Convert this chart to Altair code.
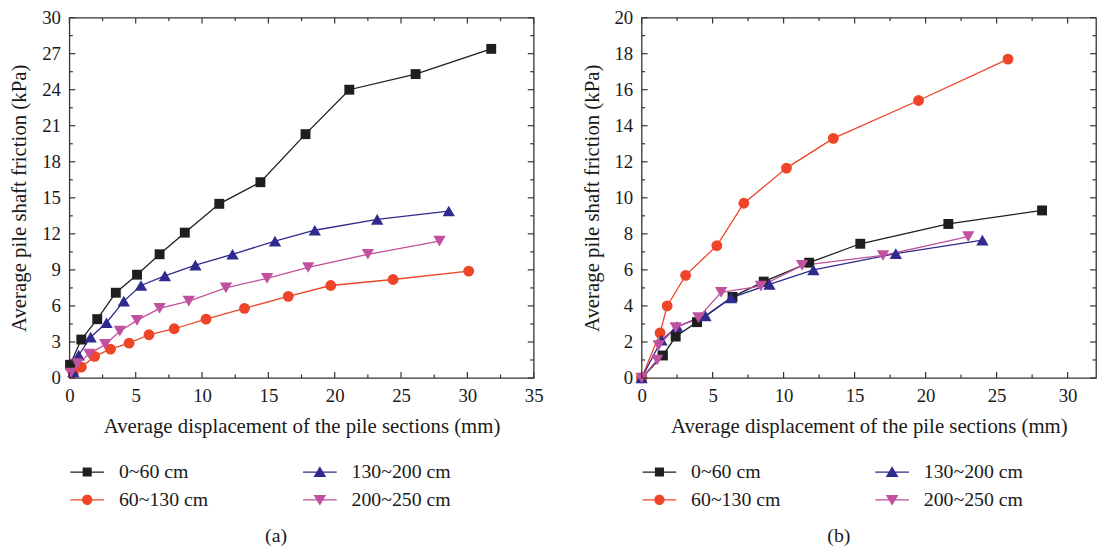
import altair as alt
import pandas as pd

FONT = "Liberation Serif"

series = ["0~60 cm", "60~130 cm", "130~200 cm", "200~250 cm"]
legend_order = ["0~60 cm", "60~130 cm", "130~200 cm", "200~250 cm"]
colors = {"0~60 cm": "#1e1e1e", "60~130 cm": "#ee4427", "130~200 cm": "#2f2a8d", "200~250 cm": "#c1509e"}
shapes = {"0~60 cm": "square", "60~130 cm": "circle", "130~200 cm": "triangle-up", "200~250 cm": "triangle-down"}
sizes = {"0~60 cm": 100, "60~130 cm": 120, "130~200 cm": 155, "200~250 cm": 155}

# ---------------- panel (a) ----------------
a_x_0_60 = [0.05, 0.9, 2.1, 3.5, 5.1, 6.8, 8.7, 11.3, 14.4, 17.8, 21.1, 26.1, 31.8]
a_y_0_60 = [1.1, 3.2, 4.9, 7.1, 8.6, 10.3, 12.1, 14.5, 16.3, 20.3, 24.0, 25.3, 27.4]
a_x_60_130 = [0.3, 0.9, 1.9, 3.1, 4.5, 6.0, 7.9, 10.3, 13.2, 16.5, 19.7, 24.4, 30.1]
a_y_60_130 = [0.4, 0.9, 1.8, 2.4, 2.9, 3.6, 4.1, 4.9, 5.8, 6.8, 7.7, 8.2, 8.9]
a_x_130_200 = [0.3, 0.7, 1.6, 2.8, 4.1, 5.4, 7.2, 9.5, 12.3, 15.5, 18.5, 23.2, 28.6]
a_y_130_200 = [0.5, 1.9, 3.4, 4.6, 6.4, 7.7, 8.5, 9.4, 10.3, 11.4, 12.3, 13.2, 13.9]
a_x_200_250 = [0.1, 0.6, 1.5, 2.7, 3.8, 5.1, 6.8, 9.0, 11.8, 14.9, 18.0, 22.5, 27.9]
a_y_200_250 = [0.4, 1.2, 2.0, 2.8, 3.9, 4.8, 5.8, 6.4, 7.5, 8.3, 9.2, 10.3, 11.4]

# ---------------- panel (b) ----------------
b_x_0_60 = [0.0, 1.5, 2.4, 3.9, 6.4, 8.6, 11.8, 15.4, 21.6, 28.2]
b_y_0_60 = [0.0, 1.25, 2.3, 3.1, 4.5, 5.35, 6.4, 7.45, 8.55, 9.3]
b_x_60_130 = [0.0, 1.3, 1.8, 3.1, 5.3, 7.2, 10.2, 13.5, 19.5, 25.8]
b_y_60_130 = [0.0, 2.5, 4.0, 5.7, 7.35, 9.7, 11.65, 13.3, 15.4, 17.7]
b_x_130_200 = [0.0, 1.4, 2.5, 4.5, 6.3, 9.0, 12.1, 17.9, 24.0]
b_y_130_200 = [0.0, 2.1, 2.85, 3.45, 4.45, 5.2, 6.0, 6.9, 7.65]
b_x_200_250 = [0.0, 1.1, 1.2, 2.4, 4.0, 5.6, 8.4, 11.3, 17.0, 23.0]
b_y_200_250 = [0.0, 1.0, 1.8, 2.8, 3.35, 4.75, 5.1, 6.25, 6.8, 7.85]

a_x_major = [0, 5, 10, 15, 20, 25, 30, 35]
a_x_minor = [2.5, 7.5, 12.5, 17.5, 22.5, 27.5, 32.5]
a_y_major = [0, 3, 6, 9, 12, 15, 18, 21, 24, 27, 30]
a_y_minor = [1.5, 4.5, 7.5, 10.5, 13.5, 16.5, 19.5, 22.5, 25.5, 28.5]
b_x_major = [0, 5, 10, 15, 20, 25, 30]
b_x_minor = [2.5, 7.5, 12.5, 17.5, 22.5, 27.5]
b_y_major = [0, 2, 4, 6, 8, 10, 12, 14, 16, 18, 20]
b_y_minor = [1, 3, 5, 7, 9, 11, 13, 15, 17, 19]

X_TITLE = "Average displacement of the pile sections (mm)"
Y_TITLE = "Average pile shaft friction (kPa)"


def build_df(xs_list, ys_list):
    rows = []
    for s, xs, ys in zip(series, xs_list, ys_list):
        for i, (xv, yv) in enumerate(zip(xs, ys)):
            rows.append({"series": s, "idx": i, "x": xv, "y": yv})
    return pd.DataFrame(rows)


df_a = build_df([a_x_0_60, a_x_60_130, a_x_130_200, a_x_200_250],
                [a_y_0_60, a_y_60_130, a_y_130_200, a_y_200_250])
df_b = build_df([b_x_0_60, b_x_60_130, b_x_130_200, b_x_200_250],
                [b_y_0_60, b_y_60_130, b_y_130_200, b_y_200_250])
legend_df = pd.DataFrame({"series": legend_order})

# legend symbol: line segment + marker (custom SVG paths in the [-1,1] box)
LINE = "M-1,0H1"
marker_paths = {
    "0~60 cm": "M-0.23,-0.23H0.23V0.23H-0.23Z",
    "60~130 cm": "M-0.27,0A0.27,0.27,0,1,1,0.27,0A0.27,0.27,0,1,1,-0.27,0Z",
    "130~200 cm": "M0,-0.27L0.31,0.25L-0.31,0.25Z",
    "200~250 cm": "M0,0.27L0.31,-0.25L-0.31,-0.25Z",
}
SYM = 34 * 34
H = 364


def make_legend():
    return alt.Legend(
        title=None, orient="none", legendX=0, legendY=448, columns=2,
        columnPadding=94, rowPadding=6, clipHeight=22, padding=0,
        symbolSize=SYM, symbolStrokeWidth=1.3, symbolOpacity=1,
        labelOffset=14, labelFont=FONT, labelFontSize=20,
        labelColor="#1a1a1a", labelLimit=300,
    )


def panel(df, xdom, ydom, xmaj, xmin, ymaj, ymin, w, h, caption):
    xs = alt.Scale(domain=xdom, nice=False, zero=False)
    ys = alt.Scale(domain=ydom, nice=False, zero=False)
    xaxis = alt.Axis(
        values=xmaj, title=X_TITLE, grid=False, ticks=False, tickSize=0, domain=False,
        labelPadding=9, titlePadding=10, labelFont=FONT, labelFontSize=19, titleFont=FONT,
        titleFontSize=21, titleFontWeight="normal", labelColor="#1a1a1a", titleColor="#1a1a1a",
        labelFlush=False)
    yaxis = alt.Axis(
        values=ymaj, title=Y_TITLE, grid=False, ticks=False, tickSize=0, domain=False,
        labelPadding=9, titlePadding=12, labelFont=FONT, labelFontSize=19, titleFont=FONT,
        titleFontSize=21, titleFontWeight="normal", labelColor="#1a1a1a", titleColor="#1a1a1a")
    xenc = alt.X("x:Q", scale=xs, axis=xaxis)
    yenc = alt.Y("y:Q", scale=ys, axis=yaxis)
    layers = []
    for s in series:
        sub = alt.Chart(df).transform_filter(alt.datum.series == s)
        layers.append(sub.mark_line(strokeWidth=1.3, color=colors[s]).encode(
            x=xenc, y=yenc, order=alt.Order("idx:Q")))
    for s in series:
        sub = alt.Chart(df).transform_filter(alt.datum.series == s)
        layers.append(sub.mark_point(filled=True, opacity=1, strokeWidth=0, color=colors[s],
                                     shape=shapes[s], size=sizes[s]).encode(x=xenc, y=yenc))
    # legend-only layer (drawn outside the clipped plot area)
    scl = alt.Scale(domain=legend_order, range=[colors[s] for s in legend_order])
    layers.append(alt.Chart(legend_df).mark_point(filled=True, size=SYM, strokeWidth=1.3, clip=True).encode(
        x=alt.value(-900), y=alt.value(-900),
        fill=alt.Fill("series:N", scale=scl, legend=make_legend()),
        stroke=alt.Stroke("series:N", scale=scl, legend=make_legend()),
        shape=alt.Shape("series:N", scale=alt.Scale(domain=legend_order,
                                                    range=[LINE + marker_paths[s] for s in legend_order]),
                        legend=make_legend()),
    ))
    tick_col = "#333333"
    for vals, L in ((xmaj, 6), (xmin, 3.5)):
        d = pd.DataFrame({"x": vals})
        layers.append(alt.Chart(d).mark_rule(color=tick_col, strokeWidth=1.2).encode(
            x=alt.X("x:Q", scale=xs, axis=xaxis), y=alt.value(h), y2=alt.value(h - L)))
        layers.append(alt.Chart(d).mark_rule(color=tick_col, strokeWidth=1.2).encode(
            x=alt.X("x:Q", scale=xs, axis=xaxis), y=alt.value(0), y2=alt.value(L)))
    for vals, L in ((ymaj, 6), (ymin, 3.5)):
        d = pd.DataFrame({"y": vals})
        layers.append(alt.Chart(d).mark_rule(color=tick_col, strokeWidth=1.2).encode(
            y=alt.Y("y:Q", scale=ys, axis=yaxis), x=alt.value(0), x2=alt.value(L)))
        layers.append(alt.Chart(d).mark_rule(color=tick_col, strokeWidth=1.2).encode(
            y=alt.Y("y:Q", scale=ys, axis=yaxis), x=alt.value(w), x2=alt.value(w - L)))
    return alt.layer(*layers).properties(
        width=w, height=h,
        title=alt.TitleParams(caption, orient="bottom", anchor="middle", frame="bounds",
                              font=FONT, fontSize=20, fontWeight="normal", color="#1a1a1a", offset=16),
    )


pa = panel(df_a, [0, 35], [0, 30], a_x_major, a_x_minor, a_y_major, a_y_minor, 469, H, "(a)")
pb = panel(df_b, [0, 32], [0, 20], b_x_major, b_x_minor, b_y_major, b_y_minor, 459, H, "(b)")

chart = alt.hconcat(pa, pb, spacing=36).resolve_scale(
    x="independent", y="independent", fill="independent", stroke="independent", shape="independent"
).resolve_legend(fill="independent", stroke="independent", shape="independent").properties(
    padding={"left": 0, "top": -3, "right": 0, "bottom": 0}
).configure_view(stroke="#333333", strokeWidth=1.3)

chart.save("out.html", embed_options={"renderer": "svg", "actions": False})
